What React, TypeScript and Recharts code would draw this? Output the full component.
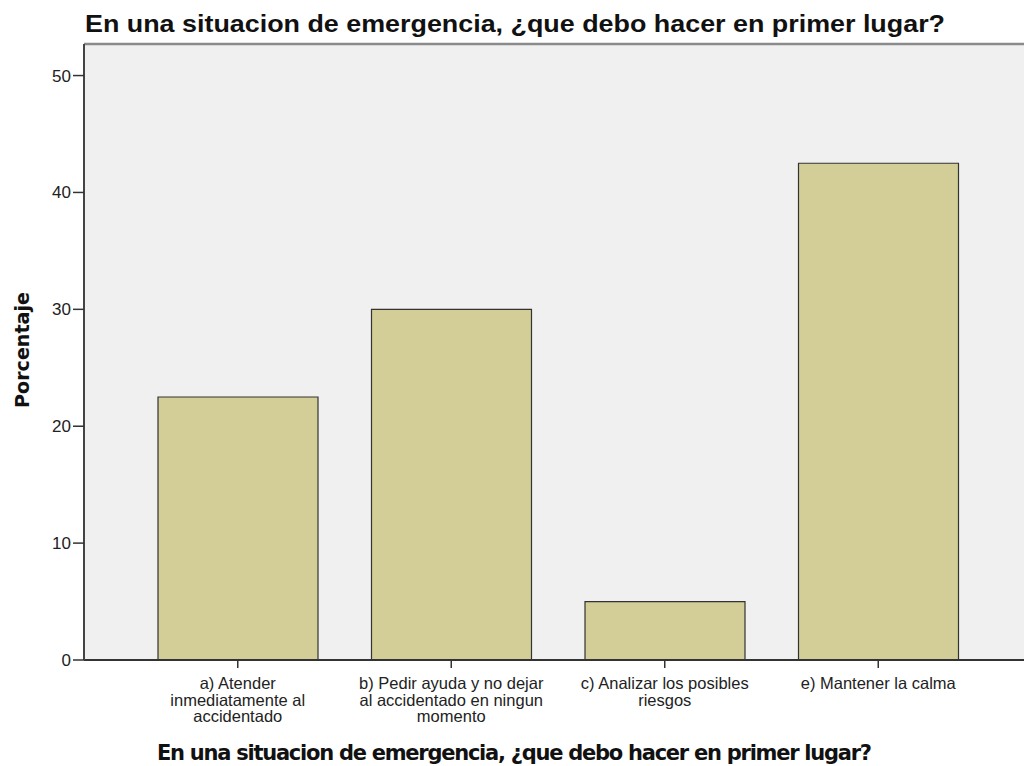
import React from "react";
import { BarChart, Bar, XAxis, YAxis, CartesianGrid, ReferenceLine, Label } from "recharts";

const categories = ["a", "b", "c", "e"];
const categoryLabels: string[][] = [
  ["a) Atender", "inmediatamente al", "accidentado"],
  ["b) Pedir ayuda y no dejar", "al accidentado en ningun", "momento"],
  ["c) Analizar los posibles", "riesgos"],
  ["e) Mantener la calma"],
];
const percentages = [22.5, 30.0, 5.0, 42.5];
const yTicks = [0, 10, 20, 30, 40, 50];
const yMax = 52.7;
const title = "En una situacion de emergencia, ¿que debo hacer en primer lugar?";
const yTitle = "Porcentaje";

const data = categories.map((c, i) => ({ cat: c, value: percentages[i], idx: i }));

const FONT = "'Liberation Sans', Arial, sans-serif";

const XTick = (props: any) => {
  const { x, y, payload } = props;
  const idx = categories.indexOf(payload.value);
  const lines = categoryLabels[idx] || [];
  return (
    <text x={x} y={y + 19} textAnchor="middle" fontFamily={FONT} fontSize={16.5} fill="#222">
      {lines.map((l, i) => (
        <tspan key={i} x={x} dy={i === 0 ? 0 : 16.5}>
          {l}
        </tspan>
      ))}
    </text>
  );
};

export default function App() {
  return (
    <div style={{ position: "absolute", left: 0, top: 0, width: 1024, height: 766, background: "#fff" }}>
      <BarChart
        width={1024}
        height={766}
        data={data}
        margin={{ top: 44, right: 0, bottom: 0, left: 0 }}
        barSize={160}
      >
        <CartesianGrid fill="#F0F0F0" horizontal={false} vertical={false} stroke="none" />
        <ReferenceLine y={yMax} stroke="#8a8a8a" strokeWidth={2.5} />
        <XAxis
          dataKey="cat"
          height={106}
          padding={{ left: 47, right: 39 }}
          tick={<XTick />}
          tickSize={8}
          tickLine={{ stroke: "#333", strokeWidth: 1.5 }}
          axisLine={{ stroke: "#333", strokeWidth: 2 }}
          interval={0}
        >
          <Label
            content={() => (
              <text
                x={514.5}
                y={760}
                textAnchor="middle"
                fontFamily="'DejaVu Sans', Verdana, sans-serif"
                fontWeight="bold"
                fontSize={21}
                fill="#111"
                textLength={715}
                lengthAdjust="spacing"
              >
                {title}
              </text>
            )}
          />
        </XAxis>
        <YAxis
          width={84}
          domain={[0, yMax]}
          ticks={yTicks}
          allowDataOverflow
          tickSize={11}
          tickMargin={2}
          tick={{ fontFamily: FONT, fontSize: 17, fill: "#222" }}
          tickLine={{ stroke: "#333", strokeWidth: 1.5 }}
          axisLine={{ stroke: "#444", strokeWidth: 2 }}
        >
          <Label
            content={() => (
              <g>
                <text
                  x={22}
                  y={350}
                  transform="rotate(-90 22 350)"
                  textAnchor="middle"
                  dominantBaseline="central"
                  fontFamily="'DejaVu Sans', Verdana, sans-serif"
                  fontWeight="bold"
                  fontSize={19}
                  fill="#111"
                  textLength={116}
                  lengthAdjust="spacingAndGlyphs"
                >
                  {yTitle}
                </text>
                <text
                  x={85}
                  y={32}
                  textAnchor="start"
                  fontFamily={FONT}
                  fontWeight="bold"
                  fontSize={24}
                  fill="#111"
                  textLength={860}
                  lengthAdjust="spacingAndGlyphs"
                >
                  {title}
                </text>
              </g>
            )}
          />
        </YAxis>
        <Bar dataKey="value" fill="#D3CE97" stroke="#333" strokeWidth={1.2} isAnimationActive={false} />
      </BarChart>
    </div>
  );
}
